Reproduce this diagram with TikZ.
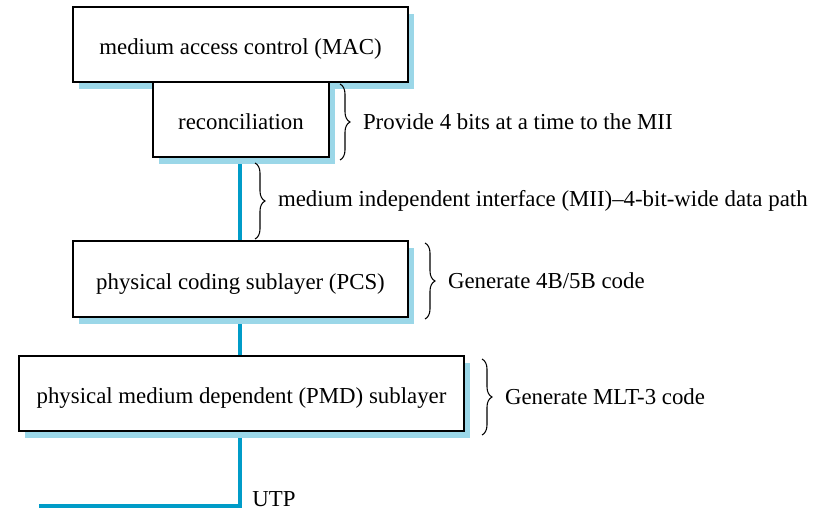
\documentclass[tikz,border=0pt]{standalone}
\usepackage{fontspec}
\setmainfont{Liberation Serif}
\usetikzlibrary{shadows,decorations.pathreplacing,backgrounds}
\definecolor{shadowblue}{RGB}{155,215,232}
\definecolor{wireblue}{RGB}{0,156,200}
\tikzset{
  layer/.style={draw=black, line width=0.7pt, fill=white, inner sep=0pt,
    minimum height=1.5cm, text height=11.6pt, text depth=0pt,
    drop shadow={shadow xshift=0.12cm, shadow yshift=-0.14cm, fill=shadowblue, opacity=1}},
  wire/.style={draw=wireblue, line width=2.8pt},
  brace/.style={decorate, decoration={brace, amplitude=0.2cm}, line width=0.6pt},
  note/.style={anchor=west, inner sep=0pt, xshift=0.45cm}
}
\begin{document}
\begin{tikzpicture}[x=0.02cm, y=-0.02cm, font=\fontsize{13}{15}\selectfont]
        \useasboundingbox (0,0) rectangle (827,514);

        \node[layer, minimum width=6.7cm] (mac) at (240.5,44.5) {medium access control (MAC)};
        \node[layer, minimum width=3.52cm] (rec) at (241,119.5) {reconciliation};
        \node[layer, minimum width=6.7cm, minimum height=1.52cm] (pcs) at (240.5,279) {physical coding sublayer (PCS)};
        \node[layer, minimum width=8.9cm] (pmd) at (241.5,393.5) {physical medium dependent (PMD) sublayer};

        \coordinate (bend) at (240,506);
        \coordinate (cable) at (39,506);
        \node[anchor=base west, inner sep=0pt] (utp) at ([xshift=0.24cm]bend) {UTP};

        \begin{scope}[on background layer]
        \draw[wire] (rec.south -| bend) -- (pcs.north -| bend);
        \draw[wire] (pcs.south -| bend) -- (pmd.north -| bend);
        \draw[wire] (pmd.south -| bend) -- (bend) -- (cable);
        \end{scope}

        \draw[brace] (340,84) -- (340,160) node[midway, note] (n1) {Provide 4 bits at a time to the MII};
        \draw[brace] (255,163) -- (255,239) node[midway, note] (n2) {medium independent interface (MII)--4-bit-wide data path};
        \draw[brace] (425,243) -- (425,319) node[midway, note] (n3) {Generate 4B/5B code};
        \draw[brace] (482,359) -- (482,435) node[midway, note] (n4) {Generate MLT-3 code};

\end{tikzpicture}
\end{document}
